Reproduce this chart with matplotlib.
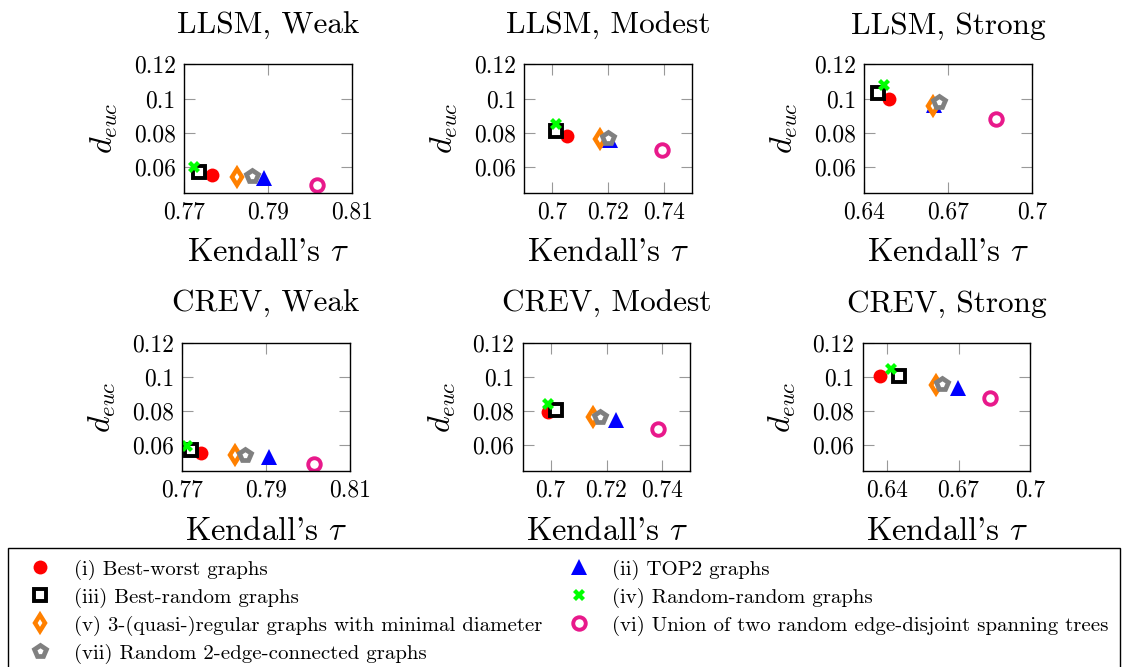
import matplotlib
matplotlib.use("Agg")
import matplotlib.pyplot as plt
from matplotlib.lines import Line2D

plt.rcParams['font.family'] = ['cmr10', 'DejaVu Serif']
plt.rcParams['mathtext.fontset'] = 'cm'
plt.rcParams['axes.formatter.use_mathtext'] = True

titles = ["LLSM, Weak", "LLSM, Modest", "LLSM, Strong",
          "CREV, Weak", "CREV, Modest", "CREV, Strong"]

series_labels = [
    "(i) Best-worst graphs",
    "(ii) TOP2 graphs",
    "(iii) Best-random graphs",
    "(iv) Random-random graphs",
    "(v) 3-(quasi-)regular graphs with minimal diameter",
    "(vi) Union of two random edge-disjoint spanning trees",
    "(vii) Random 2-edge-connected graphs",
]

# Kendall's tau (x) per panel, series order i..vii
tau = [
    [0.7766, 0.7891, 0.7736, 0.7725, 0.7827, 0.8018, 0.7863],
    [0.7054, 0.7206, 0.7014, 0.7013, 0.7172, 0.7394, 0.7201],
    [0.6487, 0.6650, 0.6450, 0.6472, 0.6647, 0.6870, 0.6667],
    [0.7744, 0.7906, 0.7721, 0.7711, 0.7826, 0.8013, 0.7850],
    [0.6989, 0.7233, 0.7019, 0.6990, 0.7150, 0.7383, 0.7175],
    [0.6371, 0.6698, 0.6450, 0.6417, 0.6608, 0.6832, 0.6633],
]
# d_euc (y) per panel
deuc = [
    [0.0551, 0.0537, 0.0573, 0.0598, 0.0542, 0.0495, 0.0546],
    [0.0784, 0.0756, 0.0808, 0.0851, 0.0764, 0.0697, 0.0770],
    [0.0996, 0.0965, 0.1030, 0.1077, 0.0954, 0.0881, 0.0978],
    [0.0557, 0.0532, 0.0573, 0.0594, 0.0542, 0.0493, 0.0544],
    [0.0792, 0.0746, 0.0806, 0.0839, 0.0765, 0.0697, 0.0767],
    [0.1008, 0.0935, 0.1004, 0.1049, 0.0955, 0.0874, 0.0959],
]

xlims = [(0.77, 0.81), (0.69, 0.75), (0.64, 0.70),
         (0.77, 0.81), (0.69, 0.75), (0.63, 0.70)]
xticks = [[0.77, 0.79, 0.81], [0.70, 0.72, 0.74], [0.64, 0.67, 0.70],
          [0.77, 0.79, 0.81], [0.70, 0.72, 0.74], [0.64, 0.67, 0.70]]
xticklabels = [["0.77", "0.79", "0.81"], ["0.7", "0.72", "0.74"], ["0.64", "0.67", "0.7"],
               ["0.77", "0.79", "0.81"], ["0.7", "0.72", "0.74"], ["0.64", "0.67", "0.7"]]
ylim = (0.045, 0.12)
yticks = [0.06, 0.08, 0.10, 0.12]
yticklabels = ["0.06", "0.08", "0.1", "0.12"]

magenta = '#e8198b'
styles = [
    dict(marker='o', color='red', mfc='red', mec='red', ms=10, mew=0),
    dict(marker='^', color='blue', mfc='blue', mec='blue', ms=11, mew=0),
    dict(marker='s', color='black', mfc='white', mec='black', ms=9, mew=2.8),
    dict(marker='X', color='#00ff00', mfc='#00ff00', mec='#00ff00', ms=8.5, mew=0),
    dict(marker='d', color='#ff8000', mfc='white', mec='#ff8000', ms=8.5, mew=3.2),
    dict(marker='o', color=magenta, mfc='white', mec=magenta, ms=9, mew=2.8),
    dict(marker='p', color='#808080', mfc='white', mec='#808080', ms=8.5, mew=3.4),
]

W, H = 1123, 667
fig = plt.figure(figsize=(W / 100, H / 100), dpi=100)

row_px = [(64.3, 192.7), (342.7, 471.0)]
col_px = [[184.0, 524.3, 864.3], [182.3, 522.7, 862.7]]
aw = 167.7

for k in range(6):
    r, c = divmod(k, 3)
    top, bot = row_px[r]
    left = col_px[r][c]
    ax = fig.add_axes([left / W, 1 - bot / H, aw / W, (bot - top) / H])
    for j in range(7):
        ax.plot([tau[k][j]], [deuc[k][j]], linestyle='none', **styles[j])
    ax.set_xlim(*xlims[k])
    ax.set_ylim(*ylim)
    ax.set_xticks(xticks[k])
    ax.set_xticklabels(xticklabels[k])
    ax.set_yticks(yticks)
    ax.set_yticklabels(yticklabels)
    ax.tick_params(direction='in', length=8, width=0.8, color='#999999',
                   top=True, right=True, labelsize=17, pad=6)
    for s in ax.spines.values():
        s.set_linewidth(1.0)
    ax.set_title(titles[k], fontsize=22.5, pad=22)
    ax.set_xlabel(r"Kendall's $\tau$", fontsize=23.5, labelpad=11)
    ax.set_ylabel(r"$d_{euc}$", fontsize=23, labelpad=10)

handles = [Line2D([], [], linestyle='none', **st) for st in styles]
order = [0, 2, 4, 6, 1, 3, 5]
leg = fig.legend([handles[i] for i in order], [series_labels[i] for i in order],
                 loc='upper left', bbox_to_anchor=(8 / W, 1 - 548 / H, 1112 / W, 0.0),
                 mode='expand', ncol=2,
                 fontsize=15, frameon=True, fancybox=False, edgecolor='black',
                 framealpha=1, labelspacing=0.38, handletextpad=0.6,
                 columnspacing=0.3, borderpad=0.55, borderaxespad=0)
leg.get_frame().set_linewidth(1.0)

fig.savefig("out.png", dpi=100)
